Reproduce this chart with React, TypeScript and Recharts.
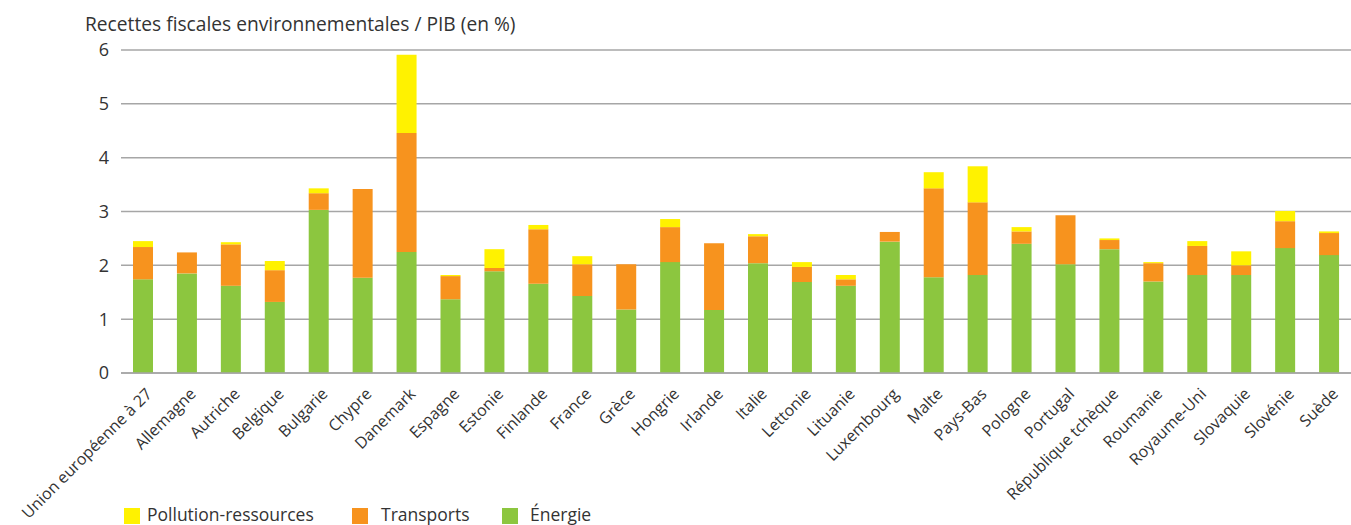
import { BarChart, Bar, XAxis, YAxis, CartesianGrid } from "recharts";

const pays = [
  "Union européenne à 27", "Allemagne", "Autriche", "Belgique", "Bulgarie",
  "Chypre", "Danemark", "Espagne", "Estonie", "Finlande", "France", "Grèce",
  "Hongrie", "Irlande", "Italie", "Lettonie", "Lituanie", "Luxembourg",
  "Malte", "Pays-Bas", "Pologne", "Portugal", "République tchèque",
  "Roumanie", "Royaume-Uni", "Slovaquie", "Slovénie", "Suède",
];

const energie = [
  1.74, 1.85, 1.62, 1.32, 3.03, 1.77, 2.25, 1.37, 1.89, 1.66, 1.43, 1.18,
  2.06, 1.17, 2.04, 1.69, 1.62, 2.44, 1.78, 1.82, 2.4, 2.02, 2.3, 1.7,
  1.82, 1.82, 2.32, 2.19,
];

const transports = [
  0.6, 0.39, 0.77, 0.59, 0.31, 1.65, 2.21, 0.43, 0.06, 1.01, 0.59, 0.84,
  0.65, 1.24, 0.5, 0.28, 0.12, 0.18, 1.65, 1.35, 0.23, 0.91, 0.17, 0.34,
  0.54, 0.18, 0.5, 0.41,
];

const pollution = [
  0.11, 0, 0.04, 0.17, 0.09, 0, 1.45, 0.02, 0.35, 0.08, 0.15, 0, 0.15, 0,
  0.04, 0.09, 0.08, 0, 0.3, 0.67, 0.08, 0, 0.03, 0.02, 0.09, 0.26, 0.19,
  0.03,
];

const yTicks = [0, 1, 2, 3, 4, 5, 6];

// legend order as in the source (top of the stack first)
const legendItems = [
  { key: "pollution", label: "Pollution-ressources", color: "#fff200", box: 124, text: 147 },
  { key: "transports", label: "Transports", color: "#f7931e", box: 352, text: 381 },
  { key: "energie", label: "Énergie", color: "#8cc63f", box: 502, text: 530 },
];

const data = pays.map((name, i) => ({
  name,
  energie: energie[i],
  transports: transports[i],
  pollution: pollution[i],
}));

const FONT = "'Open Sans', sans-serif";
const TEXT = "#333333";
const GRID = "#a6a6a6";

function CountryTick({ x, y, payload }: any) {
  const ax = x + 10;
  const ay = y + 14;
  return (
    <text
      x={ax}
      y={ay}
      transform={`rotate(-45, ${ax}, ${ay})`}
      textAnchor="end"
      fill={TEXT}
      style={{ fontSize: 16, fontFamily: FONT }}
    >
      {payload.value}
    </text>
  );
}

export default function App() {
  return (
    <div
      style={{
        position: "absolute",
        left: 0,
        top: 0,
        width: 1351,
        height: 525,
        background: "#fff",
        fontFamily: FONT,
        color: TEXT,
      }}
    >
      <div
        style={{
          position: "absolute",
          left: 85,
          top: 10,
          fontSize: 19.2,
          whiteSpace: "nowrap",
        }}
      >
        Recettes fiscales environnementales / PIB (en %)
      </div>
      <BarChart
        width={1351}
        height={525}
        data={data}
        margin={{ top: 50, right: 0, bottom: 0, left: 0 }}
      >
        <CartesianGrid vertical={false} stroke={GRID} strokeWidth={1.5} />
        <XAxis
          dataKey="name"
          interval={0}
          height={152}
          tickLine={false}
          axisLine={{ stroke: GRID, strokeWidth: 1.5 }}
          tick={<CountryTick />}
        />
        <YAxis
          width={121}
          domain={[0, 6]}
          ticks={yTicks}
          tickLine={false}
          axisLine={false}
          tickMargin={6}
          tick={{ fill: TEXT, fontSize: 18, fontFamily: FONT }}
        />
        <Bar dataKey="energie" stackId="a" fill="#8cc63f" barSize={20} isAnimationActive={false} />
        <Bar dataKey="transports" stackId="a" fill="#f7931e" barSize={20} isAnimationActive={false} />
        <Bar dataKey="pollution" stackId="a" fill="#fff200" barSize={20} isAnimationActive={false} />
      </BarChart>
      {legendItems.map((s) => (
        <div key={s.key}>
          <span
            style={{
              position: "absolute",
              left: s.box,
              top: 508,
              width: 16,
              height: 16,
              background: s.color,
            }}
          />
          <span
            style={{
              position: "absolute",
              left: s.text,
              top: 502,
              fontSize: 17.5,
              whiteSpace: "nowrap",
            }}
          >
            {s.label}
          </span>
        </div>
      ))}
    </div>
  );
}
